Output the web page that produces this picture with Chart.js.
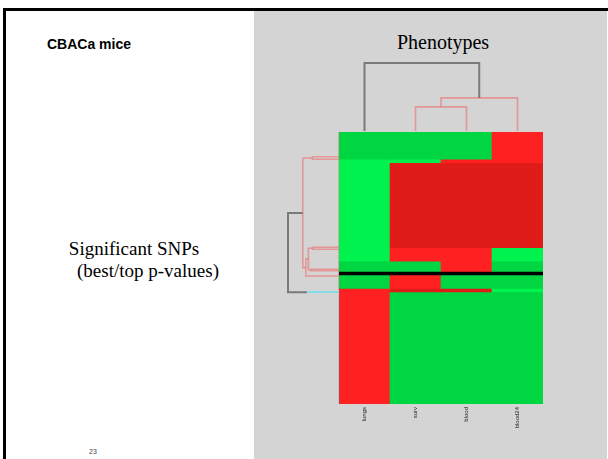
<!DOCTYPE html>
<html>
<head>
<meta charset="utf-8">
<script src="https://cdn.jsdelivr.net/npm/chart.js@4.4.0/dist/chart.umd.min.js"></script>
<style>
  body { margin: 0; background: #fff; }
  #slide { position: relative; width: 608px; height: 459px; overflow: hidden; background: #fff; }
  .box { position: absolute; }
  .txt { position: absolute; white-space: nowrap; }
  canvas { position: absolute; }
</style>
</head>
<body>
<div id="slide">
  <div class="box" style="left:254px;top:11px;width:353px;height:448px;background:#d4d4d4"></div>
  <div class="box" style="left:3px;top:8px;width:605px;height:3px;background:#000"></div>
  <div class="box" style="left:3px;top:8px;width:3px;height:451px;background:#000"></div>

  <div class="txt" style="left:47px;top:36px;font:bold 14px 'Liberation Sans',Arial,sans-serif;line-height:16px">CBACa mice</div>
  <div class="txt" style="left:343px;top:30px;width:200px;text-align:center;font:20px 'Liberation Serif','Times New Roman',serif;line-height:24px">Phenotypes</div>
  <div class="txt" style="left:34px;top:238px;width:200px;text-align:center;font:19px 'Liberation Serif','Times New Roman',serif;line-height:22px">Significant SNPs</div>
  <div class="txt" style="left:48px;top:260px;width:200px;text-align:center;font:19px 'Liberation Serif','Times New Roman',serif;line-height:22px">(best/top p-values)</div>
  <div class="txt" style="left:83px;top:448px;width:20px;text-align:center;font:7px 'Liberation Sans',Arial,sans-serif;color:#444;line-height:8px">23</div>

  <canvas id="colTree" width="204" height="78" style="left:339px;top:58px"></canvas>
  <canvas id="rowTree" width="61" height="282" style="left:283px;top:127px"></canvas>
  <canvas id="heat" width="204" height="300" style="left:339px;top:132px"></canvas>
</div>

<script>
// phenotype columns (in dendrogram order)
const phenotypes = ['lungs', 'surv', 'blood', 'blood24'];

// SNP row blocks from top to bottom: number of SNP rows in each block
const blockRows = [8, 1, 25, 4, 3, 1, 4, 1, 33];

// level of each block per phenotype: 2 strong red, 1 red, -1 green, -2 bright green, 0 marked row
const lungs   = [-1, -2, -2, -2, -1, 0, -1,  1,  1];
const surv    = [-1, -2,  2,  1, -1, 0,  1,  2, -1];
const blood   = [-1,  1,  2,  1,  1, 0, -1,  2, -1];
const blood24 = [ 1,  1,  2, -2, -1, 0, -1, -2, -1];

// column dendrogram merges: [left pos, left child height, right pos, right child height, height]
const colMerges = [
  [2,   0,     3,    0,     0.355],
  [2.5, 0.355, 4,    0,     0.487],
  [1,   0,     3.25, 0.487, 1.0]
];
const colMergeGroup = ['pink', 'pink', 'root'];

// row dendrogram merges: [upper row pos, upper child height, lower row pos, lower child height, height]
const rowMerges = [
  [7.26,  0,    8.03,  0,    0.52],
  [33.9,  0,    34.5,  0,    0.52],
  [40.4,  0,    40.8,  0,    0.55],
  [34.2,  0.52, 40.6,  0.55, 0.60],
  [37.4,  0.60, 42.35, 0,    0.65],
  [7.65,  0.52, 39.9,  0.65, 0.71],
  [23.8,  0.71, 47.1,  0.63, 1.0]
];
const rowMergeGroup = ['pink', 'pink', 'pink', 'pink', 'pink', 'pink', 'root'];
// cyan cluster stem: [row pos, from height, to height]
const rowStems = [[47.1, 0, 0.63]];
const rowStemGroup = ['cyan'];
// rows tied at height zero: [first row, last row]
const rowTies = [[0, 46.5], [46.8, 80]];
const rowTieGroup = ['pink', 'cyan'];

const levelColor = { '2': '#e01c18', '1': '#ff2121', '-1': '#00d542', '-2': '#00f24e', '0': '#000000' };
const groupColor = { pink: 'rgba(236,110,110,0.6)', cyan: 'rgba(100,225,240,0.8)', root: '#7a7a7a' };

Chart.defaults.animation = false;

// ---------- heatmap ----------
const columns = [lungs, surv, blood, blood24];
let start = 0;
const heatSets = blockRows.map((n, i) => {
  const ds = {
    data: phenotypes.map(() => [start, start + n]),
    backgroundColor: columns.map(col => levelColor[col[i]]),
    borderWidth: 0,
    categoryPercentage: 1,
    barPercentage: 1,
    grouped: false
  };
  start += n;
  return ds;
});

new Chart(document.getElementById('heat'), {
  type: 'bar',
  data: { labels: phenotypes, datasets: heatSets },
  options: {
    responsive: false,
    layout: { padding: 0 },
    plugins: { legend: { display: false }, tooltip: { enabled: false } },
    scales: {
      x: {
        grid: { display: false, drawTicks: false },
        border: { display: false },
        ticks: { minRotation: 90, maxRotation: 90, padding: 3, color: '#222', font: { size: 6, family: 'Liberation Sans' } },
        afterFit: axis => { axis.height = 28; }
      },
      y: { display: false, reverse: true, min: 0, max: start }
    }
  }
});

// ---------- dendrograms ----------
function mergeLine(m, group, horizontal) {
  const [p1, h1, p2, h2, h] = m;
  const pts = horizontal
    ? [{ x: p1, y: h1 }, { x: p1, y: h }, { x: p2, y: h }, { x: p2, y: h2 }]
    : [{ x: h1, y: p1 }, { x: h, y: p1 }, { x: h, y: p2 }, { x: h2, y: p2 }];
  return line(pts, group);
}
function line(pts, group) {
  return {
    data: pts, showLine: true, pointRadius: 0, fill: false, clip: false,
    borderColor: groupColor[group], borderWidth: group === 'root' ? 2 : 1.6,
    order: group === 'root' ? 0 : 1
  };
}
const treeOpts = (xs, ys, pad) => ({
  responsive: false,
  layout: { padding: pad },
  plugins: { legend: { display: false }, tooltip: { enabled: false } },
  scales: { x: Object.assign({ type: 'linear', display: false }, xs), y: Object.assign({ type: 'linear', display: false }, ys) }
});

new Chart(document.getElementById('colTree'), {
  type: 'scatter',
  data: { datasets: colMerges.map((m, i) => mergeLine(m, colMergeGroup[i], true)) },
  options: treeOpts({ min: 0.5, max: 4.5 }, { min: 0, max: 1 }, { top: 5, bottom: 5, left: 0, right: 0 })
});

const rowSets = rowMerges.map((m, i) => mergeLine(m, rowMergeGroup[i], false))
  .concat(rowStems.map((s, i) => line([{ x: s[1], y: s[0] }, { x: s[2], y: s[0] }], rowStemGroup[i])))
  .concat(rowTies.map((t, i) => line([{ x: 0, y: t[0] }, { x: 0, y: t[1] }], rowTieGroup[i])));

new Chart(document.getElementById('rowTree'), {
  type: 'scatter',
  data: { datasets: rowSets },
  options: treeOpts({ min: 0, max: 1, reverse: true }, { min: 0, max: start, reverse: true }, { top: 5, bottom: 5, left: 5, right: 5 })
});
</script>
</body>
</html>
